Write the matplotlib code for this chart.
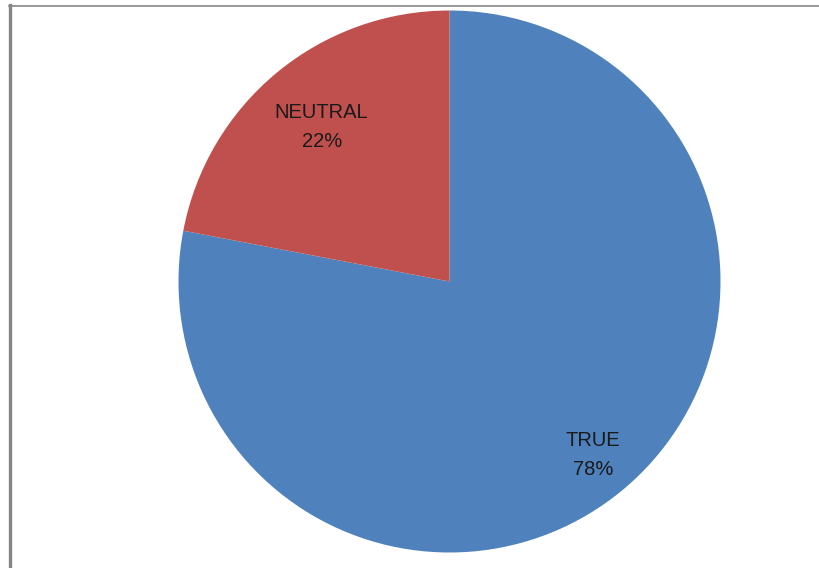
import numpy as np
import matplotlib
matplotlib.use("Agg")
import matplotlib.pyplot as plt
from matplotlib.lines import Line2D

categories = ["TRUE", "NEUTRAL"]
shares = [78, 22]
colors = ["#4F81BD", "#C0504D"]
label_dist = [0.83, 0.74]

W, H = 820, 568
fig = plt.figure(figsize=(W / 100, H / 100), dpi=100)
ax = fig.add_axes([0, 0, 1, 1])

cx, cy, r = 449.5, H - 281.5, 271
wedges, _ = ax.pie(shares, colors=colors, startangle=90, counterclock=False,
                   center=(cx, cy), radius=r, frame=True,
                   wedgeprops=dict(linewidth=0))
ax.set_xlim(0, W)
ax.set_ylim(0, H)
ax.set_aspect("equal")
ax.axis("off")

for w, name, val, d in zip(wedges, categories, shares, label_dist):
    mid = np.deg2rad((w.theta1 + w.theta2) / 2)
    x = cx + d * r * np.cos(mid)
    y = cy + d * r * np.sin(mid)
    ax.text(x, y, f"{name}\n{val}%", ha="center", va="center",
            fontsize=14.5, family="Liberation Sans",
            color="#1a1a1a", linespacing=1.7)

# chart area border: top and left edges
fig.add_artist(Line2D([9 / W, 1], [1 - 5.5 / H, 1 - 5.5 / H],
                      transform=fig.transFigure, color="#868686", lw=1.2))
fig.add_artist(Line2D([10.5 / W, 10.5 / W], [0, 1 - 5 / H],
                      transform=fig.transFigure, color="#868686", lw=2.4))

fig.savefig("out.png", dpi=100)
